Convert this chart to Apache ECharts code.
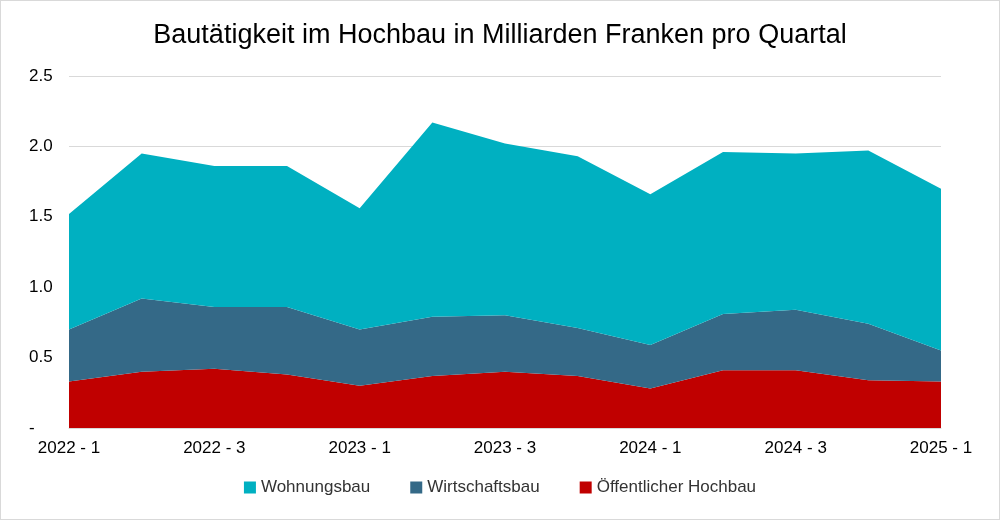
<!DOCTYPE html>
<html>
<head>
<meta charset="utf-8">
<script src="https://cdn.jsdelivr.net/npm/echarts@6/dist/echarts.min.js"></script>
<style>
  html, body { margin: 0; padding: 0; background: #fff; }
  #chart { width: 998px; height: 518px; border: 1px solid #d9d9d9; }
</style>
</head>
<body>
<div id="chart"></div>
<script>
// Quartale und Werte (Mrd. CHF)
const quarters = ['2022 - 1', '2022 - 2', '2022 - 3', '2022 - 4', '2023 - 1', '2023 - 2', '2023 - 3',
                  '2023 - 4', '2024 - 1', '2024 - 2', '2024 - 3', '2024 - 4', '2025 - 1'];
const oeffentlich = [0.33, 0.40, 0.42, 0.38, 0.30, 0.37, 0.40, 0.37, 0.28, 0.41, 0.41, 0.34, 0.33];
const wirtschaft  = [0.37, 0.52, 0.44, 0.48, 0.40, 0.42, 0.40, 0.34, 0.31, 0.40, 0.43, 0.40, 0.22];
const wohnung     = [0.82, 1.03, 1.00, 1.00, 0.86, 1.38, 1.22, 1.22, 1.07, 1.15, 1.11, 1.23, 1.15];

const font = 'Liberation Sans, Arial, sans-serif';
const chart = echarts.init(document.getElementById('chart'));

function area(name, data, color) {
  return {
    name, type: 'line', stack: 'total', data,
    symbol: 'none', lineStyle: { width: 0 },
    areaStyle: { color, opacity: 1 }, itemStyle: { color }
  };
}

chart.setOption({
  animation: false,
  title: {
    text: 'Bautätigkeit im Hochbau in Milliarden Franken pro Quartal',
    left: 'center', top: 16,
    textStyle: { fontFamily: font, fontSize: 27, fontWeight: 'normal', color: '#000' }
  },
  legend: {
    data: ['Wohnungsbau', 'Wirtschaftsbau', 'Öffentlicher Hochbau'],
    bottom: 18, itemWidth: 12, itemHeight: 12, itemGap: 40, icon: 'rect',
    textStyle: { fontFamily: font, fontSize: 17, color: '#333' }
  },
  grid: { left: 68, right: 58, top: 75, bottom: 91 },
  xAxis: {
    type: 'category', data: quarters, boundaryGap: false,
    axisLine: { lineStyle: { color: '#d9d9d9' } },
    axisTick: { show: false },
    axisLabel: { fontFamily: font, fontSize: 17, color: '#000', margin: 12 }
  },
  yAxis: {
    type: 'value', min: 0, max: 2.5, interval: 0.5,
    axisLine: { show: false }, axisTick: { show: false },
    splitLine: { lineStyle: { color: '#d9d9d9' } },
    axisLabel: {
      fontFamily: font, fontSize: 17, color: '#000', margin: 40, align: 'left',
      formatter: v => v === 0 ? '-' : v.toFixed(1)
    }
  },
  series: [
    area('Öffentlicher Hochbau', oeffentlich, '#C00000'),
    area('Wirtschaftsbau', wirtschaft, '#346987'),
    area('Wohnungsbau', wohnung, '#00B0C1')
  ]
});
</script>
</body>
</html>
